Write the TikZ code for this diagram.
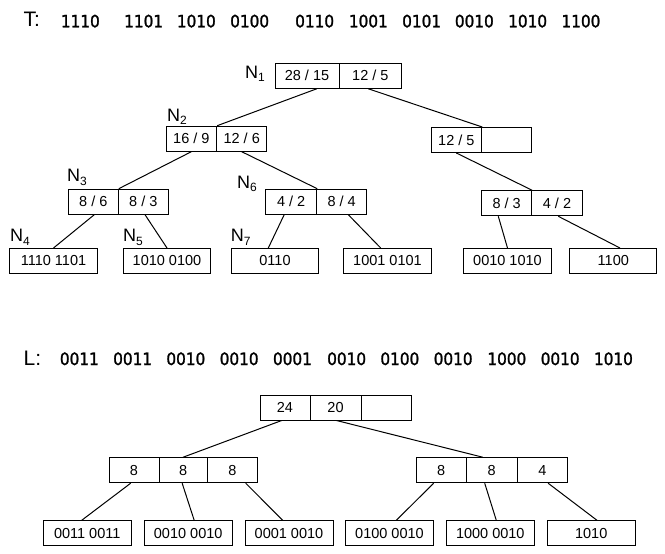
\documentclass[tikz,border=0pt]{standalone}
\usepackage{fontspec}
\setmainfont{Liberation Sans}
\newfontfamily\seqfont[FakeBold=1.5]{DejaVu Sans Condensed}
\tikzset{
  cell/.style={draw, line width=1pt, rectangle, inner sep=0pt, minimum height=25pt,
    font=\fontsize{14.5}{16}\selectfont},
  edge/.style={line width=1pt},
  seq/.style={anchor=base west, inner sep=0pt, font=\seqfont\fontsize{17}{19}\selectfont},
  hdr/.style={anchor=base west, inner sep=0pt, font=\fontsize{21}{23}\selectfont},
  lbl/.style={anchor=base west, inner sep=0pt, font=\fontsize{18}{20}\selectfont}
}
\newcommand{\nlab}[1]{N\raisebox{-0.35ex}{\fontsize{12}{12}\selectfont #1}}
\begin{document}
\begin{tikzpicture}[x=1pt,y=-1pt]
\path[use as bounding box, fill=white] (0,0) rectangle (665,554);

% ---- T sequence ----
\node[hdr] (T) at (23.5,26.8) {T:};
\node[seq] (t1) at (60.7,27.3) {1110};
\node[seq] (t2) at (124,27.3) {1101};
\node[seq] (t3) at (176.7,27.3) {1010};
\node[seq] (t4) at (230,27.3) {0100};
\node[seq] (t5) at (295,27.3) {0110};
\node[seq] (t6) at (348.7,27.3) {1001};
\node[seq] (t7) at (402,27.3) {0101};
\node[seq] (t8) at (454.7,27.3) {0010};
\node[seq] (t9) at (508,27.3) {1010};
\node[seq] (t10) at (561.3,27.3) {1100};

% ---- top tree ----
\node[cell, minimum width=64pt] (n1a) at (307,75.8) {28 / 15};
\node[cell, minimum width=62.7pt] (n1b) at (370.35,75.8) {12 / 5};
\node[cell, minimum width=50.7pt] (n2a) at (191.35,138.7) {16 / 9};
\node[cell, minimum width=50pt] (n2b) at (241.7,138.7) {12 / 6};
\node[cell, minimum width=50.7pt] (r1a) at (456.35,140) {12 / 5};
\node[cell, minimum width=50pt] (r1b) at (506.7,140) {};
\node[cell, minimum width=50pt] (n3a) at (93.3,201.7) {8 / 6};
\node[cell, minimum width=50pt] (n3b) at (143.3,201.7) {8 / 3};
\node[cell, minimum width=51pt] (n6a) at (291.2,201.7) {4 / 2};
\node[cell, minimum width=50pt] (n6b) at (341.7,201.7) {8 / 4};
\node[cell, minimum width=50pt] (r2a) at (506.7,203.3) {8 / 3};
\node[cell, minimum width=50.6pt] (r2b) at (557,203.3) {4 / 2};
\node[cell, minimum width=88.4pt] (l1) at (53.5,261) {1110 1101};
\node[cell, minimum width=87.4pt] (l2) at (167,261) {1010 0100};
\node[cell, minimum width=86.6pt] (l3) at (275,261) {0110};
\node[cell, minimum width=88.4pt] (l4) at (387.5,261) {1001 0101};
\node[cell, minimum width=88.4pt] (l5) at (507.5,261) {0010 1010};
\node[cell, minimum width=86.7pt] (l6) at (613.3,261) {1100};

\node[lbl] (N1) at (245,78) {\nlab{1}};
\node[lbl] (N2) at (167,121.5) {\nlab{2}};
\node[lbl] (N3) at (67,181.7) {\nlab{3}};
\node[lbl] (N6) at (237,188) {\nlab{6}};
\node[lbl] (N4) at (10,241.7) {\nlab{4}};
\node[lbl] (N5) at (123,241.7) {\nlab{5}};
\node[lbl] (N7) at (230.7,241.7) {\nlab{7}};

\draw[edge] ([xshift=9.7pt]n1a.south) -- (n2a.north east);
\draw[edge] ([xshift=-2pt]n1b.south) -- (r1a.north east);
\draw[edge] (n2a.south) -- (n3a.north east);
\draw[edge] (n2b.south) -- (n6a.north east);
\draw[edge] ([xshift=1pt]n3a.south) -- (l1.north);
\draw[edge] ([xshift=1.7pt]n3b.south) -- (l2.north);
\draw[edge] ([xshift=-7pt]n6a.south) -- ([xshift=-6.7pt]l3.north);
\draw[edge] ([xshift=6.6pt]n6b.south) -- ([xshift=-6.8pt]l4.north);
\draw[edge] (r1a.south) -- (r2a.north east);
\draw[edge] ([xshift=-8.4pt]r2a.south) -- (l5.north);
\draw[edge] ([xshift=1.3pt]r2b.south) -- ([xshift=6.7pt]l6.north);

% ---- L sequence ----
\node[hdr] (L) at (23.5,365) {L:};
\node[seq] (s1) at (59.7,365) {0011};
\node[seq] (s2) at (113,365) {0011};
\node[seq] (s3) at (166.2,365) {0010};
\node[seq] (s4) at (219.5,365) {0010};
\node[seq] (s5) at (272.8,365) {0001};
\node[seq] (s6) at (327,365) {0010};
\node[seq] (s7) at (380.2,365) {0100};
\node[seq] (s8) at (433.5,365) {0010};
\node[seq] (s9) at (487.2,365) {1000};
\node[seq] (s10) at (540.5,365) {0010};
\node[seq] (s11) at (593.8,365) {1010};

% ---- bottom tree ----
\node[cell, minimum width=50pt] (ra) at (285,407.5) {24};
\node[cell, minimum width=51pt] (rb) at (335.5,407.5) {20};
\node[cell, minimum width=50pt] (rc) at (386,407.5) {};
\node[cell, minimum width=50pt] (mla) at (134,470.2) {8};
\node[cell, minimum width=48.3pt] (mlb) at (183.15,470.2) {8};
\node[cell, minimum width=50pt] (mlc) at (232.3,470.2) {8};
\node[cell, minimum width=50.3pt] (mra) at (441.2,470.2) {8};
\node[cell, minimum width=50.7pt] (mrb) at (491.7,470.2) {8};
\node[cell, minimum width=50.7pt] (mrc) at (542.4,470.2) {4};
\node[cell, minimum width=87.7pt] (b1) at (87.2,533.3) {0011 0011};
\node[cell, minimum width=88.3pt] (b2) at (188.2,533.3) {0010 0010};
\node[cell, minimum width=88pt] (b3) at (289,533.3) {0001 0010};
\node[cell, minimum width=88.4pt] (b4) at (389.5,533.3) {0100 0010};
\node[cell, minimum width=88pt] (b5) at (490.3,533.3) {1000 0010};
\node[cell, minimum width=88.3pt] (b6) at (591.2,533.3) {1010};

\draw[edge] ([xshift=-3.3pt]ra.south) -- (mlb.north);
\draw[edge] ([xshift=1pt]rb.south) -- ([xshift=-9pt]mrb.north);
\draw[edge] ([xshift=-3.3pt]mla.south) -- ([xshift=-5.5pt]b1.north);
\draw[edge] ([xshift=-1pt]mlb.south) -- ([xshift=6pt]b2.north);
\draw[edge] ([xshift=13.4pt]mlc.south) -- ([xshift=-6.3pt]b3.north);
\draw[edge] ([xshift=-7.5pt]mra.south) -- ([xshift=6.8pt]b4.north);
\draw[edge] ([xshift=-7pt]mrb.south) -- ([xshift=6pt]b5.north);
\draw[edge] ([xshift=5.7pt]mrc.south) -- ([xshift=5.8pt]b6.north);
\end{tikzpicture}
\end{document}
